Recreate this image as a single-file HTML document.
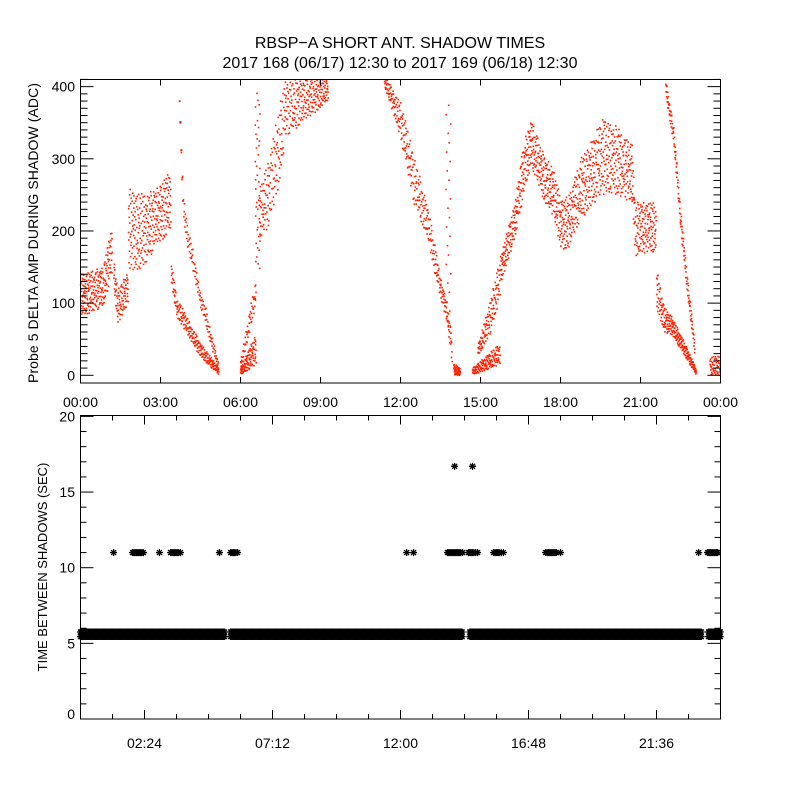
<!DOCTYPE html>
<html><head><meta charset="utf-8"><style>
html,body{margin:0;padding:0;background:#fff;}
svg{display:block;font-family:"Liberation Sans",sans-serif;}
</style></head><body>
<svg id="chart" width="800" height="800" viewBox="0 0 800 800">
<rect width="800" height="800" fill="#fff"/>
<text x="400" y="48" text-anchor="middle" font-size="16">RBSP−A SHORT ANT. SHADOW TIMES</text>
<text x="400" y="68" text-anchor="middle" font-size="16">2017 168 (06/17) 12:30 to 2017 169 (06/18) 12:30</text>
<g id="topPanel"></g>
<g id="botPanel"></g>
</svg>
<script>
// ---- top panel data (hours, lower/upper envelope of probe 5 delta amp) ----
const trackHours = [
 [0,0.85,1.2],[1.25,1.4,1.8],[1.8,2.4,2.85,3.4],[3.4,3.6,3.8,4.5,5.2],
 [3.7,3.85,4.0,4.25,4.5,4.7,4.9,5.2],[6.0,6.6],[6.0,6.6],[6.55,6.75],
 [6.7,7.0,7.5,7.7,9.3],[11.4,12.0,12.5,13.0,13.25,13.5,13.75,13.95],
 [13.7,13.9],[14.0,14.25],[14.7,15.75],[14.9,15.4,15.75],
 [15.75,16.3,16.6,16.9,17.4,17.75,18.0,18.3,18.75,19.25,19.5,20.0,20.7,20.8,21.2,21.6],
 [21.6,21.9,22.2,22.6,23.1],[21.95,22.25,22.5,22.75,23.05],[23.6,24]
];
const trackLo = [
 [80,95,140],[120,70,100],[140,150,180,200],[130,80,70,25,0],
 [380,220,180,140,95,70,40,5],[0,15],[5,100],[145,145],
 [185,200,270,330,380],[400,330,238,192,146,109,72,10],
 [50,50],[0,0],[0,15],[25,60,110],
 [125,190,245,290,240,220,175,175,215,238,250,250,240,165,170,170],
 [90,60,55,30,0],[385,320,205,115,25],[0,0]
];
const trackHi = [
 [140,150,215],[160,120,145],[260,250,260,285],[160,110,95,45,10],
 [410,260,210,170,115,95,60,15],[10,60],[20,140],[400,400],
 [250,295,380,410,410],[415,380,307,238,192,137,100,50],
 [400,400],[17,10],[10,45],[40,110,165],
 [165,240,320,355,305,285,245,248,300,330,355,350,320,240,240,240],
 [150,95,80,50,8],[410,345,235,140,45],[25,30]
];
const trackCount = [200,80,260,200,120,90,55,40,330,300,25,40,130,110,950,230,140,45];
const topXTicks = ["00:00","03:00","06:00","09:00","12:00","15:00","18:00","21:00","00:00"];
const topYTicks = [0,100,200,300,400];

// ---- bottom panel data ----
const baseSegStart = [0,5.63,14.6,23.55];
const baseSegEnd = [5.41,14.33,23.3,24];
const baseLow = 5.45;
const baseHigh = 5.75;
const starHours11 = [1.24,1.95,2.0,2.05,2.1,2.15,2.2,2.25,2.3,2.36,2.96,3.38,3.43,3.48,3.53,3.58,3.63,3.68,3.75,5.21,5.63,5.68,5.73,5.78,5.83,5.89,12.23,12.49,13.76,13.81,13.86,13.91,13.96,14.01,14.06,14.11,14.16,14.21,14.26,14.33,14.55,14.6,14.65,14.7,14.75,14.82,14.89,15.49,15.55,15.6,15.65,15.7,15.78,15.86,17.44,17.5,17.55,17.6,17.65,17.7,17.75,17.8,17.85,18.0,23.18,23.51,23.56,23.6,23.65,23.7,23.75,23.8,23.85,23.89];
const starValue11 = 11;
const starHoursHigh = [14.03,14.7];
const starValueHigh = 16.7;
const botXTicks = ["02:24","07:12","12:00","16:48","21:36"];
const botXTickHours = [2.4,7.2,12,16.8,21.6];
const botYTicks = [0,5,10,15,20];

const NS="http://www.w3.org/2000/svg";
function el(tag,attrs,parent){const e=document.createElementNS(NS,tag);for(const k in attrs)e.setAttribute(k,attrs[k]);parent.appendChild(e);return e;}
const X0=80.5,X1=720.5;
const xs=h=>X0+(X1-X0)*h/24;
const T0=79.5,T1=383;
const ysTop=v=>375.3-v*0.7217;
const B0=415.5,B1=719;
const ysBot=v=>719-v*15.13;
function interp(hs,vs,h){for(let i=0;i<hs.length-1;i++){if(h<=hs[i+1]){const t=(h-hs[i])/(hs[i+1]-hs[i]||1);return vs[i]+t*(vs[i+1]-vs[i]);}}return vs[vs.length-1];}
function halton(i,b){let f=1,r=0;while(i>0){f/=b;r+=f*(i%b);i=Math.floor(i/b);}return r;}

const topG=document.getElementById('topPanel');
const botG=document.getElementById('botPanel');
// top dots
const dots=el('g',{fill:'#ff2000'},topG);


for(let t=0;t<trackHours.length;t++){
 const hs=trackHours[t],lo=trackLo[t],hi=trackHi[t],n=trackCount[t];
 const h0=hs[0],h1=hs[hs.length-1];
 for(let i=1;i<=n;i++){
  const h=h0+(h1-h0)*halton(i,2);
  const f=halton(i,3);
  const v=interp(hs,lo,h)+f*(interp(hs,hi,h)-interp(hs,lo,h));
  const y=ysTop(v);
  if(y<T0||y>T1-1)continue;
  el('rect',{x:(xs(h)-0.8).toFixed(1),y:(y-0.8).toFixed(1),width:1.6,height:1.6},dots);
 }
}
// top axes
const tf=el('rect',{x:X0,y:T0,width:X1-X0,height:T1-T0,fill:'none',stroke:'#000','stroke-width':1},topG);


for(let i=0;i<topXTicks.length;i++){
 const x=xs(i*3);
 el('line',{x1:x,y1:T1,x2:x,y2:T1-6,stroke:'#000'},topG);
 el('line',{x1:x,y1:T0,x2:x,y2:T0+6,stroke:'#000'},topG);
 const tx=el('text',{x:x,y:407,'text-anchor':'middle','font-size':14},topG);
 tx.textContent=topXTicks[i];
 
 
}
for(let v=0;v<=410;v+=10){
 const y=ysTop(v);const major=v%100===0;const L=major?13:7;
 el('line',{x1:X0,y1:y,x2:X0+L,y2:y,stroke:'#000'},topG);
 el('line',{x1:X1,y1:y,x2:X1-L,y2:y,stroke:'#000'},topG);
}
for(const v of topYTicks){
 const tx=el('text',{x:75,y:ysTop(v)+5,'text-anchor':'end','font-size':14},topG);
 tx.textContent=v;
 
 
}
const yt=el('text',{x:0,y:0,'text-anchor':'middle','font-size':14,'textLength':300,transform:'translate(38,233) rotate(-90)'},topG);
yt.textContent='Probe 5 DELTA AMP DURING SHADOW (ADC)';



// bottom stars
function star(cx,cy,g){
 const r=3.5,d=2.5;
 el('path',{d:`M${cx-r} ${cy}H${cx+r}M${cx} ${cy-r}V${cy+r}M${cx-d} ${cy-d}L${cx+d} ${cy+d}M${cx-d} ${cy+d}L${cx+d} ${cy-d}`,stroke:'#000','stroke-width':1.3,fill:'none'},g);
}
const bg=el('g',{},botG);


for(let s=0;s<baseSegStart.length;s++){
 for(let h=baseSegStart[s];h<=baseSegEnd[s];h+=0.04){star(xs(h),ysBot(baseLow),bg);star(xs(h),ysBot(baseHigh),bg);}
}
const sg=el('g',{},botG);


for(const h of starHours11)star(xs(h),ysBot(starValue11),sg);
for(const h of starHoursHigh)star(xs(h),ysBot(starValueHigh),sg);
const bf=el('rect',{x:X0,y:B0,width:X1-X0,height:B1-B0,fill:'none',stroke:'#000','stroke-width':1},botG);


for(let k=1;k<20;k++){
 const x=xs(k*1.2);const major=k%4===2;const L=major?9:5;
 el('line',{x1:x,y1:B1,x2:x,y2:B1-L,stroke:'#000'},botG);
 el('line',{x1:x,y1:B0,x2:x,y2:B0+L,stroke:'#000'},botG);
}
for(let i=0;i<botXTicks.length;i++){
 const tx=el('text',{x:xs(botXTickHours[i]),y:748,'text-anchor':'middle','font-size':14},botG);
 tx.textContent=botXTicks[i];
 
 
}
for(let v=0;v<=20;v++){
 const y=ysBot(v);const major=v%5===0;const L=major?13:6;
 el('line',{x1:X0,y1:y,x2:X0+L,y2:y,stroke:'#000'},botG);
 el('line',{x1:X1,y1:y,x2:X1-L,y2:y,stroke:'#000'},botG);
}
for(const v of botYTicks){
 const tx=el('text',{x:75,y:Math.min(ysBot(v)+5,719),'text-anchor':'end','font-size':14},botG);
 tx.textContent=v;
 
 
}
const by=el('text',{x:0,y:0,'text-anchor':'middle','font-size':13,transform:'translate(47,567) rotate(-90)'},botG);
by.textContent='TIME BETWEEN SHADOWS (SEC)';


</script>
</body></html>
